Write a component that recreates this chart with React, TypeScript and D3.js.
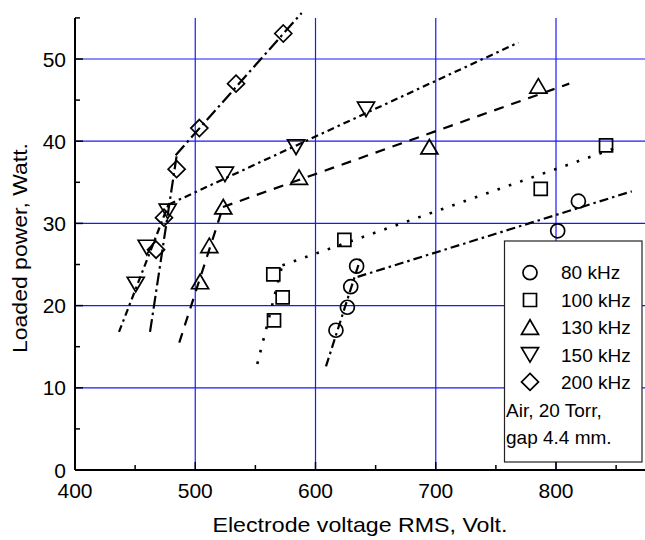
import React, { useEffect, useRef } from 'react';
import * as d3 from 'd3';

// axis ticks
const xMajor = [400, 500, 600, 700, 800];
const xMinor = [450, 550, 650, 750, 850];
const yMajor = [0, 10, 20, 30, 40, 50];
const yMinor = [5, 15, 25, 35, 45, 55];
const xGrid = [500, 600, 700, 800];
const yGrid = [10, 20, 30, 40, 50];

const labels = ['80 kHz', '100 kHz', '130 kHz', '150 kHz', '200 kHz'];
const notes = ['Air, 20 Torr,', 'gap 4.4 mm.'];

// measured points (voltage RMS, loaded power)
const volt80 = [617, 626.5, 629.3, 634.2, 801.4, 818.6];
const power80 = [17.0, 19.8, 22.3, 24.8, 29.1, 32.7];
const volt100 = [565.5, 572.7, 564.9, 624, 787.3, 841.6];
const power100 = [18.2, 21.0, 23.8, 28.0, 34.2, 39.5];
const volt130 = [504, 511.7, 523.3, 586.3, 694.7, 785.3];
const power130 = [22.9, 27.3, 32.0, 35.6, 39.3, 46.7];
const volt150 = [450.5, 459.6, 477.1, 524.7, 583.8, 642];
const power150 = [22.6, 27.1, 31.5, 36.0, 39.3, 43.9];
const volt200 = [467.4, 474, 484.5, 503.4, 533.9, 573.2];
const power200 = [26.8, 30.7, 36.6, 41.6, 47.0, 53.1];

// fitted line ends, two segments per frequency
const fit80 = [[[608.7, 12.6], [638, 26.0]], [[635, 23.5], [863, 33.9]]];
const fit100 = [[[551.6, 12.9], [572.5, 25.0]], [[572.5, 24.9], [852, 39.3]]];
const fit130 = [[[486.7, 15.5], [522, 31.5]], [[523, 32.0], [811, 47.0]]];
const fit150 = [[[436.6, 16.8], [478, 32.4]], [[478, 32.3], [768.7, 52.0]]];
const fit200 = [[[462.4, 16.8], [484.5, 38.2]], [[483.7, 38.3], [588.5, 55.6]]];

const series = [
  { volt: volt80, power: power80, fits: fit80, shape: 'circle', dash: '9,4,2.5,4', width: 2.2 },
  { volt: volt100, power: power100, fits: fit100, shape: 'square', dash: '2.6,9.4', width: 2.6 },
  { volt: volt130, power: power130, fits: fit130, shape: 'up', dash: '10,8', width: 2.2 },
  { volt: volt150, power: power150, fits: fit150, shape: 'down', dash: '7,4,2.5,4', width: 2.2 },
  { volt: volt200, power: power200, fits: fit200, shape: 'diamond', dash: '13,4,2.5,4', width: 2.2 },
];

const shapePath = (shape: string) => {
  switch (shape) {
    case 'square': return 'M-6.5,-6.5H6.5V6.5H-6.5Z';
    case 'up': return 'M0,-7.5L8.5,7L-8.5,7Z';
    case 'down': return 'M0,7.5L8.5,-7L-8.5,-7Z';
    case 'diamond': return 'M0,-8.5L8.5,0L0,8.5L-8.5,0Z';
    default: return 'M7,0A7,7 0 1,1 -7,0A7,7 0 1,1 7,0Z';
  }
};

const FONT = '"Liberation Sans", Arial, sans-serif';

const App = () => {
  const svgRef = useRef<SVGSVGElement>(null);

  useEffect(() => {
    const svg = d3.select(svgRef.current);
    svg.selectAll('*').remove();

    const x = d3.scaleLinear().domain([400, 874]).range([75, 645]);
    const y = d3.scaleLinear().domain([0, 55]).range([470, 17.9]);
    const [xl, xr] = x.range();
    const [yb, yt] = y.range();

    // grid
    const grid = svg.append('g').attr('stroke', '#1a1af5').attr('stroke-width', 1.2);
    xGrid.forEach((v) => {
      grid.append('line').attr('x1', x(v)).attr('x2', x(v)).attr('y1', yt).attr('y2', yb);
    });
    yGrid.forEach((v) => {
      grid.append('line').attr('x1', xl).attr('x2', xr).attr('y1', y(v)).attr('y2', y(v));
    });

    // fitted lines
    const line = d3.line<number[]>().x((d) => x(d[0])).y((d) => y(d[1]));
    series.forEach((s) => {
      s.fits.forEach((f) => {
        svg.append('path')
          .attr('d', line(f))
          .attr('fill', 'none')
          .attr('stroke', '#000')
          .attr('stroke-width', s.width)
          .attr('stroke-dasharray', s.dash);
      });
    });

    // markers
    series.forEach((s) => {
      s.volt.forEach((v, i) => {
        svg.append('path')
          .attr('d', shapePath(s.shape))
          .attr('transform', `translate(${x(v)},${y(s.power[i])})`)
          .attr('fill', 'none')
          .attr('stroke', '#000')
          .attr('stroke-width', 1.7);
      });
    });

    // legend
    const lg = svg.append('g');
    lg.append('rect')
      .attr('x', 504.5).attr('y', 241).attr('width', 137.5).attr('height', 221)
      .attr('fill', '#fff').attr('stroke', '#222').attr('stroke-width', 1.2);
    labels.forEach((lab, i) => {
      lg.append('path')
        .attr('d', shapePath(series[i].shape))
        .attr('transform', `translate(530,${272.7 + i * 27.3})`)
        .attr('fill', 'none')
        .attr('stroke', '#000')
        .attr('stroke-width', 1.7);
      lg.append('text')
        .attr('x', 561).attr('y', 279.3 + i * 27.5)
        .style('font-family', FONT).style('font-size', '19px')
        .text(lab);
    });
    notes.forEach((n, i) => {
      lg.append('text')
        .attr('x', 506).attr('y', 417 + i * 27.3)
        .style('font-family', FONT).style('font-size', '19px')
        .text(n);
    });

    // axes
    const ax = svg.append('g').attr('stroke', '#000');
    ax.append('line').attr('x1', xl).attr('x2', xr).attr('y1', yb).attr('y2', yb).attr('stroke-width', 2);
    ax.append('line').attr('x1', xl).attr('x2', xl).attr('y1', yt).attr('y2', yb).attr('stroke-width', 2);
    xMajor.forEach((v) => {
      ax.append('line').attr('x1', x(v)).attr('x2', x(v)).attr('y1', yb).attr('y2', yb - 8).attr('stroke-width', 1.5);
    });
    xMinor.forEach((v) => {
      ax.append('line').attr('x1', x(v)).attr('x2', x(v)).attr('y1', yb).attr('y2', yb - 5).attr('stroke-width', 1.5);
    });
    yMajor.forEach((v) => {
      ax.append('line').attr('x1', xl).attr('x2', xl + 8).attr('y1', y(v)).attr('y2', y(v)).attr('stroke-width', 1.5);
    });
    yMinor.forEach((v) => {
      ax.append('line').attr('x1', xl).attr('x2', xl + 5).attr('y1', y(v)).attr('y2', y(v)).attr('stroke-width', 1.5);
    });

    xMajor.forEach((v) => {
      svg.append('text')
        .attr('x', x(v)).attr('y', 498)
        .attr('text-anchor', 'middle')
        .style('font-family', FONT).style('font-size', '21px')
        .text(v);
    });
    yMajor.forEach((v) => {
      svg.append('text')
        .attr('x', 66).attr('y', y(v) + 7.5)
        .attr('text-anchor', 'end')
        .style('font-family', FONT).style('font-size', '21px')
        .text(v);
    });

    svg.append('text')
      .attr('x', 360).attr('y', 532)
      .attr('text-anchor', 'middle')
      .attr('textLength', 295).attr('lengthAdjust', 'spacingAndGlyphs')
      .style('font-family', FONT).style('font-size', '21px')
      .text('Electrode voltage RMS, Volt.');

    svg.append('text')
      .attr('transform', 'translate(27,248) rotate(-90)')
      .attr('text-anchor', 'middle')
      .attr('textLength', 210).attr('lengthAdjust', 'spacingAndGlyphs')
      .style('font-family', FONT).style('font-size', '21px')
      .text('Loaded power, Watt.');
  }, []);

  return (
    <>
      <style>{'body{margin:0}'}</style>
      <svg ref={svgRef} width={645} height={540} style={{ display: 'block', background: '#fff' }} />
    </>
  );
};

export default App;
